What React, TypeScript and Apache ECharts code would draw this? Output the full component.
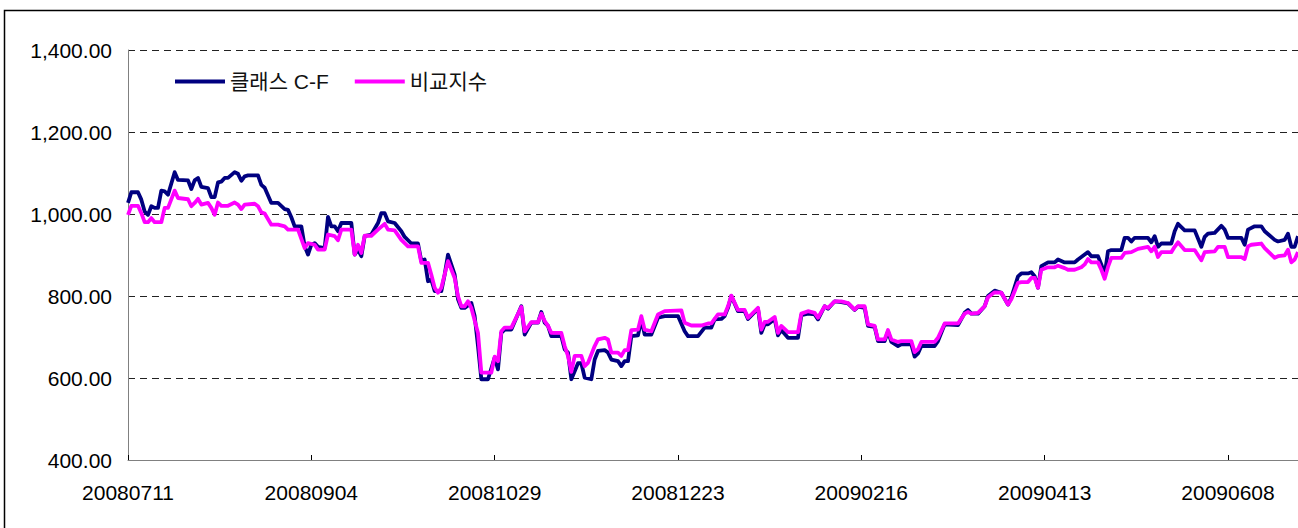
import React, { useEffect, useRef } from "react";
import * as echarts from "echarts";

// x-axis tick labels (one every 55 day-slots, starting at 20080711)
const tickLabels = ["20080711", "20080904", "20081029", "20081223", "20090216", "20090413", "20090608"];
const tickStep = 55;
const lastSlot = 351;

const seriesNames = ["클래스 C-F", "비교지수"];

// 클래스 C-F : day offsets from 20080711 and values
const cfDays = [
  0, 1, 3, 4, 5, 6, 7, 8, 9, 10, 11, 12, 14, 15, 18, 19, 20, 21, 22, 24, 25, 26, 27, 28, 29, 30, 32, 33, 34, 35, 36, 39, 40, 41,
  43, 45, 47, 48, 49, 50, 52, 53, 54, 55, 56, 57, 59, 60, 61, 62, 63, 64, 67, 68, 69, 70, 71, 73, 75, 76, 77, 78, 80, 82, 83, 85,
  87, 88, 89, 90, 91, 92, 94, 95, 96, 98, 99, 100, 101, 103, 104, 105, 106, 108, 110, 111, 112, 113, 115, 118, 119, 121, 123, 124,
  125, 126, 127, 130, 131, 132, 133, 135, 136, 137, 139, 140, 141, 143, 144, 145, 147, 148, 149, 150, 151, 153, 154, 155, 157, 159,
  161, 165, 167, 168, 171, 173, 175, 176, 178, 179, 180, 181, 183, 185, 186, 189, 190, 191, 192, 194, 195, 196, 198, 201, 202, 204,
  206, 207, 209, 210, 212, 214, 216, 218, 219, 221, 222, 224, 225, 227, 228, 229, 231, 232, 235, 236, 237, 238, 242, 243, 245, 249,
  251, 252, 253, 255, 257, 258, 260, 262, 264, 265, 267, 268, 270, 271, 272, 273, 274, 276, 278, 279, 281, 284, 285, 287, 288, 289,
  291, 292, 293, 294, 295, 298, 299, 300, 301, 302, 306, 307, 308, 309, 310, 313, 314, 315, 317, 320, 322, 323, 324, 326, 328, 329,
  330, 334, 335, 336, 338, 340, 341, 344, 345, 347, 348, 349, 350, 351,
];
const cfValues = [
  1027, 1053, 1053, 1035, 1006, 998, 1019, 1015, 1015, 1057, 1055, 1047, 1102, 1083, 1082, 1061, 1082, 1088, 1066, 1063, 1041, 1041,
  1077, 1079, 1088, 1088, 1102, 1098, 1081, 1092, 1094, 1094, 1071, 1064, 1027, 1027, 1012, 1010, 992, 970, 970, 921, 901, 925, 929,
  920, 917, 993, 970, 970, 958, 978, 978, 901, 913, 897, 946, 950, 978, 1002, 1002, 982, 978, 958, 944, 928, 928, 885, 889, 836, 840,
  812, 812, 852, 901, 852, 792, 771, 771, 783, 751, 678, 597, 597, 650, 621, 710, 718, 718, 775, 706, 735, 735, 761, 735, 727, 702,
  702, 670, 662, 597, 636, 636, 601, 597, 645, 666, 668, 662, 645, 641, 629, 641, 641, 702, 704, 743, 706, 706, 747, 751, 751, 714,
  702, 702, 723, 723, 743, 744, 751, 771, 800, 763, 763, 744, 769, 710, 731, 731, 744, 704, 717, 698, 698, 753, 757, 755, 743, 775,
  769, 787, 785, 782, 766, 774, 771, 727, 725, 690, 690, 714, 688, 678, 682, 682, 652, 660, 678, 678, 690, 731, 729, 759, 766, 757,
  757, 775, 800, 813, 808, 779, 796, 848, 855, 855, 858, 848, 820, 873, 882, 882, 889, 882, 882, 889, 901, 907, 897, 897, 877, 852,
  909, 912, 912, 942, 942, 933, 942, 942, 931, 946, 920, 928, 928, 958, 976, 960, 960, 920, 944, 952, 954, 971, 962, 942, 942, 925,
  962, 970, 970, 958, 937, 933, 937, 952, 920, 920, 946,
];

// 비교지수 : day offsets from 20080711 and values
const bmDays = [
  0, 1, 3, 4, 5, 6, 7, 8, 10, 11, 12, 14, 15, 18, 19, 20, 21, 22, 24, 25, 26, 27, 28, 30, 32, 33, 34, 35, 38, 39, 40, 41, 43, 45,
  47, 48, 51, 53, 54, 56, 57, 59, 60, 62, 63, 64, 67, 68, 69, 70, 71, 73, 75, 77, 78, 80, 82, 84, 87, 88, 90, 91, 92, 93, 94, 96,
  98, 99, 100, 101, 102, 103, 105, 106, 109, 110, 111, 112, 113, 115, 118, 119, 121, 123, 124, 125, 126, 127, 130, 131, 132, 133,
  134, 136, 137, 138, 140, 141, 143, 144, 145, 147, 148, 149, 150, 151, 153, 154, 155, 157, 159, 161, 166, 167, 169, 172, 174, 175,
  177, 178, 179, 180, 181, 183, 185, 186, 189, 190, 191, 192, 194, 195, 196, 198, 201, 202, 204, 206, 207, 209, 210, 212, 214, 216,
  218, 219, 221, 222, 224, 225, 227, 228, 229, 231, 232, 235, 236, 237, 238, 242, 243, 245, 249, 251, 252, 253, 255, 257, 258, 260,
  262, 264, 265, 267, 268, 270, 271, 272, 273, 274, 276, 278, 279, 281, 282, 284, 286, 287, 288, 289, 291, 292, 293, 294, 295, 298,
  299, 301, 303, 306, 307, 308, 309, 310, 313, 314, 315, 317, 320, 322, 323, 326, 327, 329, 330, 334, 335, 336, 337, 340, 341, 344,
  345, 347, 348, 349, 350, 351,
];
const bmValues = [
  998, 1020, 1020, 1002, 980, 980, 990, 980, 980, 1015, 1015, 1057, 1039, 1036, 1019, 1027, 1037, 1023, 1027, 1015, 998, 1028, 1020,
  1020, 1028, 1023, 1012, 1023, 1025, 1019, 1004, 1001, 974, 974, 970, 962, 962, 917, 929, 925, 913, 913, 950, 946, 936, 962, 962,
  901, 925, 905, 947, 947, 962, 976, 962, 960, 937, 921, 921, 881, 881, 852, 820, 808, 820, 885, 844, 800, 775, 775, 787, 771, 710,
  613, 613, 652, 641, 714, 723, 723, 773, 714, 736, 736, 757, 739, 727, 710, 710, 678, 654, 615, 654, 654, 629, 637, 678, 694, 698,
  694, 662, 662, 654, 668, 668, 717, 718, 751, 718, 714, 755, 763, 765, 735, 728, 728, 733, 733, 755, 755, 755, 775, 801, 766, 766,
  747, 771, 718, 737, 737, 749, 710, 727, 712, 712, 757, 763, 759, 747, 775, 771, 787, 787, 783, 767, 775, 775, 731, 727, 694, 694,
  717, 694, 688, 690, 690, 663, 670, 688, 688, 698, 733, 733, 757, 761, 757, 759, 775, 797, 809, 808, 779, 792, 832, 834, 834, 844,
  844, 820, 864, 870, 870, 874, 868, 864, 864, 870, 877, 890, 882, 882, 864, 842, 871, 893, 893, 905, 907, 915, 920, 909, 920, 895,
  907, 907, 920, 931, 912, 912, 887, 907, 909, 920, 920, 895, 895, 890, 921, 925, 928, 917, 893, 897, 899, 913, 882, 889, 907,
];

const cfData = cfDays.map((d, i) => [d, cfValues[i]]);
const bmData = bmDays.map((d, i) => [d, bmValues[i]]);

const latin = "'Liberation Sans', Arial, 'Noto Sans CJK KR', sans-serif";

export default function App() {
  const ref = useRef<HTMLDivElement>(null);

  useEffect(() => {
    if (!ref.current) return;
    const chart = echarts.init(ref.current, null, { renderer: "svg" });
    chart.setOption({
      animation: false,
      backgroundColor: "#ffffff",
      graphic: [
        {
          type: "rect",
          shape: { x: 4.5, y: 10.5, width: 1400, height: 600 },
          style: { fill: "none", stroke: "#000", lineWidth: 1.5 },
          silent: true,
          z: -1,
        },
      ],
      grid: { left: 128, top: 50, width: 1170, height: 410, containLabel: false },
      legend: {
        left: 170,
        top: 66,
        icon: "rect",
        itemWidth: 50,
        itemHeight: 4,
        itemGap: 26,
        textStyle: { fontSize: 21, color: "#111", fontFamily: latin },
        data: seriesNames,
      },
      xAxis: {
        type: "value",
        min: 0,
        max: lastSlot,
        interval: tickStep,
        axisLine: { show: true, lineStyle: { color: "#808080", width: 1 } },
        axisTick: { show: true, inside: true, length: 5, lineStyle: { color: "#000", width: 1 } },
        splitLine: { show: false },
        axisLabel: {
          showMaxLabel: false,
          margin: 22,
          fontSize: 21,
          color: "#000",
          fontFamily: latin,
          formatter: (v: number) => (v % tickStep === 0 && tickLabels[v / tickStep]) || "",
        },
      },
      yAxis: {
        type: "value",
        min: 400,
        max: 1400,
        interval: 200,
        axisLine: { show: true, lineStyle: { color: "#808080", width: 1 } },
        axisTick: { show: false },
        splitLine: { show: true, lineStyle: { color: "#222", width: 1, type: [7, 5] } },
        axisLabel: {
          margin: 16,
          fontSize: 21,
          color: "#000",
          fontFamily: latin,
          formatter: (v: number) =>
            v.toLocaleString("en-US", { minimumFractionDigits: 2, maximumFractionDigits: 2 }),
        },
      },
      series: [
        {
          name: seriesNames[0],
          type: "line",
          data: cfData,
          symbol: "none",
          itemStyle: { color: "#000080" },
          lineStyle: { color: "#000080", width: 3.8, join: "round" },
          z: 2,
        },
        {
          name: seriesNames[1],
          type: "line",
          data: bmData,
          symbol: "none",
          itemStyle: { color: "#FF00FF" },
          lineStyle: { color: "#FF00FF", width: 3.8, join: "round" },
          z: 3,
        },
      ],
    });
    return () => chart.dispose();
  }, []);

  return (
    <div
      ref={ref}
      style={{ position: "fixed", left: 0, top: 0, width: 1298, height: 528, background: "#fff" }}
    />
  );
}
